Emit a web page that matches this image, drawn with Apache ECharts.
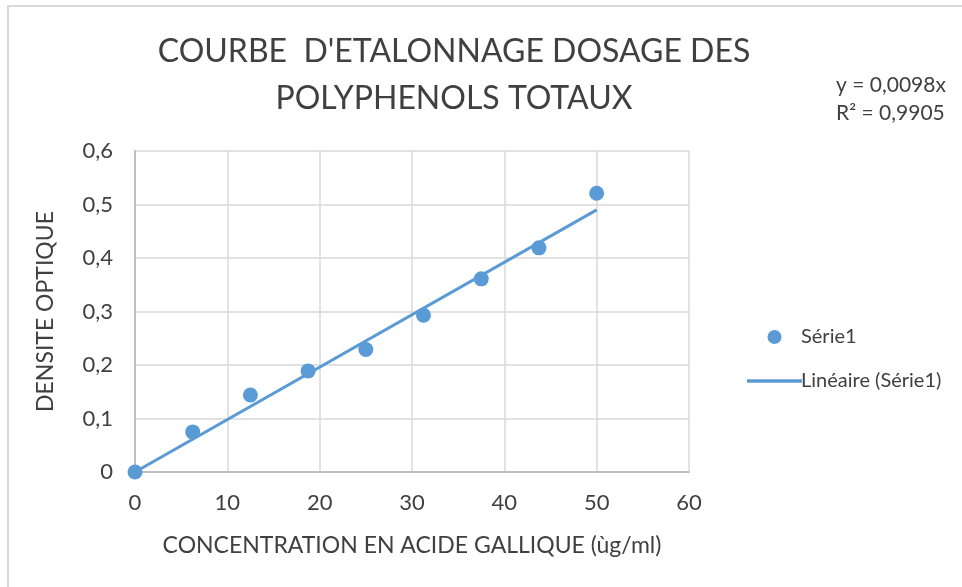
<!DOCTYPE html>
<html>
<head>
<meta charset="utf-8">
<script src="https://cdn.jsdelivr.net/npm/echarts@6/dist/echarts.min.js"></script>
<style>
  html, body { margin: 0; padding: 0; background: #fff; }
  #chart { width: 962px; height: 587px; }
</style>
</head>
<body>
<div id="chart"></div>
<script>
// données
var concentrations = [0, 6.25, 12.5, 18.75, 25, 31.25, 37.5, 43.75, 50];
var densites = [0, 0.075, 0.144, 0.189, 0.229, 0.293, 0.361, 0.419, 0.521];
var pente = 0.0098;
var trendX = [0, 50];
var xTicks = [0, 10, 20, 30, 40, 50, 60];
var yTicks = [0, 0.1, 0.2, 0.3, 0.4, 0.5, 0.6];

var font = "Lato, 'Open Sans', sans-serif";
var bleu = "#5b9bd5";

var points = concentrations.map(function (x, i) {
  return [x, densites[i]];
});
var tendance = trendX.map(function (x) {
  return [x, +(x * pente).toFixed(4)];
});

var myChart = echarts.init(document.getElementById("chart"));
myChart.setOption({
  animation: false,
  textStyle: { fontFamily: font },
  title: {
    text: "COURBE  D'ETALONNAGE DOSAGE DES\nPOLYPHENOLS TOTAUX",
    left: 449,
    top: 23,
    textAlign: "center",
    textStyle: {
      fontFamily: font,
      fontSize: 32,
      fontWeight: "normal",
      color: "#404040",
      lineHeight: 47
    }
  },
  grid: {
    left: 135,
    right: 962 - 689,
    top: 151,
    bottom: 587 - 472,
    containLabel: false
  },
  xAxis: {
    type: "value",
    min: xTicks[0],
    max: xTicks[xTicks.length - 1],
    interval: 10,
    name: "CONCENTRATION EN ACIDE GALLIQUE (ùg/ml)",
    nameLocation: "middle",
    nameGap: 62,
    nameTextStyle: { fontSize: 23, color: "#404040", fontFamily: font },
    axisLine: { lineStyle: { color: "#bfbfbf", width: 2 } },
    axisTick: { show: false },
    axisLabel: { fontSize: 22, color: "#404040", margin: 20 },
    splitLine: { lineStyle: { color: "#d9d9d9", width: 1.5 } }
  },
  yAxis: {
    type: "value",
    min: yTicks[0],
    max: yTicks[yTicks.length - 1],
    interval: 0.1,
    name: "DENSITE OPTIQUE",
    nameLocation: "middle",
    nameGap: 78,
    nameTextStyle: { fontSize: 23, color: "#404040", fontFamily: font },
    axisLine: { show: true, lineStyle: { color: "#bfbfbf", width: 2 } },
    axisTick: { show: false },
    axisLabel: {
      fontSize: 22,
      color: "#404040",
      margin: 22,
      formatter: function (v) {
        return String(+v.toFixed(1)).replace(".", ",");
      }
    },
    splitLine: { lineStyle: { color: "#d9d9d9", width: 1.5 } }
  },
  legend: {
    orient: "vertical",
    left: 742,
    top: 322,
    itemGap: 24,
    itemWidth: 55,
    itemHeight: 14,
    textStyle: { fontSize: 20, color: "#404040", fontFamily: font, padding: [0, 0, 0, -6] },
    data: [
      { name: "Série1", icon: "circle", itemStyle: { color: bleu } },
      { name: "Linéaire (Série1)", icon: "path://M0,0 L55,0 L55,3.5 L0,3.5 Z", itemStyle: { color: bleu } }
    ]
  },
  graphic: [
    {
      type: "rect",
      shape: { x: 8, y: 6, width: 1000, height: 700 },
      style: { fill: "none", stroke: "#d9d9d9", lineWidth: 2 },
      silent: true
    },
    {
      type: "text",
      left: 836,
      top: 71,
      style: {
        text: "y = 0,0098x\nR² = 0,9905",
        fontFamily: font,
        fontSize: 21,
        lineHeight: 28,
        fill: "#404040"
      }
    }
  ],
  series: [
    {
      name: "Linéaire (Série1)",
      type: "line",
      data: tendance,
      showSymbol: false,
      symbol: "none",
      lineStyle: { color: bleu, width: 3 },
      itemStyle: { color: bleu },
      z: 2
    },
    {
      name: "Série1",
      type: "scatter",
      data: points,
      symbolSize: 15,
      itemStyle: { color: bleu, opacity: 1 },
      z: 3
    }
  ]
});
</script>
</body>
</html>
